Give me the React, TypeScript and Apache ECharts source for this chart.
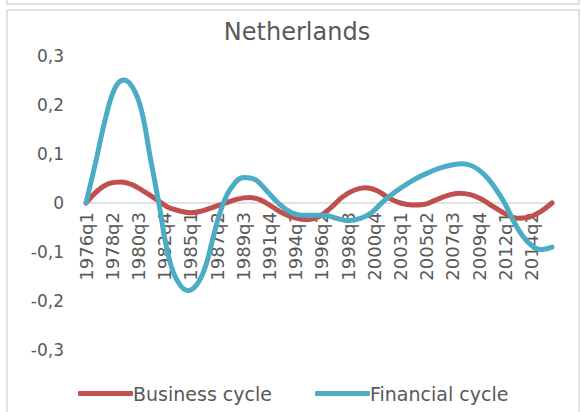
import React, { useEffect, useRef } from "react";
import * as echarts from "echarts";

// Quarterly category axis 1976q1 .. 2016q1
const startYear = 1976;
const endYear = 2016;
const categories: string[] = [];
for (let y = startYear; y <= endYear; y++) {
  for (let q = 1; q <= 4; q++) {
    if (y === endYear && q > 1) break;
    categories.push(`${y}q${q}`);
  }
}

// Business cycle readings (quarter, value)
const businessQuarters = [
  "1976q1", "1977q1", "1978q1", "1979q1", "1980q1", "1981q1", "1982q1", "1983q1", "1984q1",
  "1985q1", "1986q1", "1987q1", "1988q1", "1989q1", "1990q1", "1991q1", "1992q1", "1993q1",
  "1994q1", "1995q1", "1996q1", "1997q1", "1998q1", "1999q1", "2000q1", "2001q1", "2002q1",
  "2003q1", "2004q1", "2005q1", "2006q1", "2007q1", "2008q1", "2009q1", "2010q1", "2011q1",
  "2012q1", "2013q1", "2014q1", "2015q1", "2016q1",
];
const businessValues = [
  0, 0.025, 0.04, 0.043, 0.037, 0.023, 0.008, -0.008, -0.016,
  -0.02, -0.016, -0.008, 0, 0.008, 0.011, 0.006, -0.008, -0.022,
  -0.031, -0.034, -0.028, -0.01, 0.012, 0.026, 0.031, 0.025, 0.01,
  0, -0.004, -0.003, 0.006, 0.015, 0.02, 0.017, 0.007, -0.008,
  -0.022, -0.031, -0.029, -0.018, 0,
];

// Financial cycle readings (quarter, value)
const financialQuarters = [
  "1976q1", "1976q4", "1977q4", "1978q3", "1979q2", "1980q1", "1980q4", "1981q3", "1982q2",
  "1983q1", "1983q4", "1984q4", "1985q3", "1986q2", "1987q1", "1987q4", "1988q3", "1989q3",
  "1990q3", "1991q3", "1992q3", "1993q3", "1994q3", "1995q3", "1996q3", "1997q3", "1998q3",
  "1999q3", "2000q3", "2001q3", "2002q3", "2003q3", "2004q3", "2005q3", "2006q3", "2007q3",
  "2008q2", "2009q1", "2009q4", "2010q3", "2011q2", "2012q1", "2012q4", "2013q3", "2014q2",
  "2015q1", "2016q1",
];
const financialValues = [
  0, 0.075, 0.18, 0.235, 0.251, 0.236, 0.19, 0.095, 0,
  -0.1, -0.155, -0.179, -0.167, -0.13, -0.062, -0.003, 0.032, 0.052,
  0.048, 0.025, 0, -0.018, -0.025, -0.025, -0.025, -0.031, -0.036,
  -0.032, -0.02, 0.003, 0.022, 0.038, 0.052, 0.063, 0.072, 0.078,
  0.08, 0.077, 0.067, 0.05, 0.026, -0.003, -0.039, -0.068, -0.087,
  -0.095, -0.09,
];

const yMin = -0.3;
const yMax = 0.3;
const yStep = 0.1;

const FONT = "DejaVu Sans";
const TEXT = "#595959";
const RED = "#C0504D";
const BLUE = "#4BACC6";

export default function App() {
  const ref = useRef<HTMLDivElement>(null);
  useEffect(() => {
    if (!ref.current) return;
    const chart = echarts.init(ref.current, undefined, { renderer: "svg" });
    const pairs = (qs: string[], vals: number[]) => qs.map((q, i) => [q, vals[i]]);
    const legendCommon = {
      top: 379,
      icon: "roundRect",
      itemWidth: 55,
      itemHeight: 5,
      textStyle: { fontFamily: FONT, fontSize: 19, color: TEXT, padding: [0, 0, 0, -5] },
    };
    chart.setOption({
      animation: false,
      textStyle: { fontFamily: FONT, color: TEXT },
      title: {
        text: "Netherlands",
        left: 292,
        textAlign: "center",
        top: 15,
        textStyle: { fontFamily: FONT, fontSize: 24, fontWeight: "normal", color: TEXT },
      },
      graphic: [
        {
          type: "rect",
          shape: { x: 7, y: -60, width: 572, height: 64 },
          style: { fill: "none", stroke: "#d9d9d9", lineWidth: 1.5 },
          silent: true,
        },
        {
          type: "rect",
          shape: { x: 7, y: 10, width: 572, height: 420 },
          style: { fill: "none", stroke: "#d9d9d9", lineWidth: 1.5 },
          silent: true,
        },
      ],
      legend: [
        { ...legendCommon, left: 73, data: [{ name: "Business cycle", icon: "roundRect" }] },
        { ...legendCommon, left: 310, data: [{ name: "Financial cycle", icon: "roundRect" }] },
      ],
      grid: [
        { left: 86, right: 30, top: 56, bottom: 62 },
        { left: 86, right: 30, top: 56, bottom: 209 },
      ],
      xAxis: [
        {
          type: "category",
          gridIndex: 0,
          data: categories,
          boundaryGap: false,
          axisLine: { show: true, onZero: true, lineStyle: { color: "#d9d9d9", width: 1.5 } },
          axisTick: { show: false },
          axisLabel: { show: false },
          splitLine: { show: false },
        },
        {
          type: "category",
          gridIndex: 1,
          data: categories,
          boundaryGap: false,
          axisLine: { show: false },
          axisTick: { show: false },
          axisLabel: {
            interval: 8,
            rotate: 90,
            margin: 9,
            fontFamily: FONT,
            fontSize: 18,
            color: TEXT,
          },
          splitLine: { show: false },
        },
      ],
      yAxis: [
        {
          type: "value",
          gridIndex: 0,
          min: yMin,
          max: yMax,
          interval: yStep,
          axisLine: { show: false },
          axisTick: { show: false },
          splitLine: { show: false },
          axisLabel: {
            margin: 22,
            fontFamily: FONT,
            fontSize: 17,
            color: TEXT,
            formatter: (v: number) => {
              const r = Math.round(v * 10) / 10;
              if (r === 0) return "0";
              return r.toFixed(1).replace(".", ",");
            },
          },
        },
        {
          type: "value",
          gridIndex: 1,
          min: 0,
          max: 1,
          show: false,
        },
      ],
      series: [
        {
          name: "Business cycle",
          type: "line",
          xAxisIndex: 0,
          yAxisIndex: 0,
          data: pairs(businessQuarters, businessValues),
          smooth: 0.4,
          showSymbol: false,
          symbol: "none",
          lineStyle: { color: RED, width: 5, cap: "round" },
          itemStyle: { color: RED },
        },
        {
          name: "Financial cycle",
          type: "line",
          xAxisIndex: 0,
          yAxisIndex: 0,
          data: pairs(financialQuarters, financialValues),
          smooth: 0.4,
          showSymbol: false,
          symbol: "none",
          lineStyle: { color: BLUE, width: 5, cap: "round" },
          itemStyle: { color: BLUE },
        },
      ],
    });
    return () => chart.dispose();
  }, []);
  return (
    <div style={{ position: "fixed", left: 0, top: 0, width: 582, height: 412, background: "#fff" }}>
      <div ref={ref} style={{ width: 582, height: 412 }} />
    </div>
  );
}
